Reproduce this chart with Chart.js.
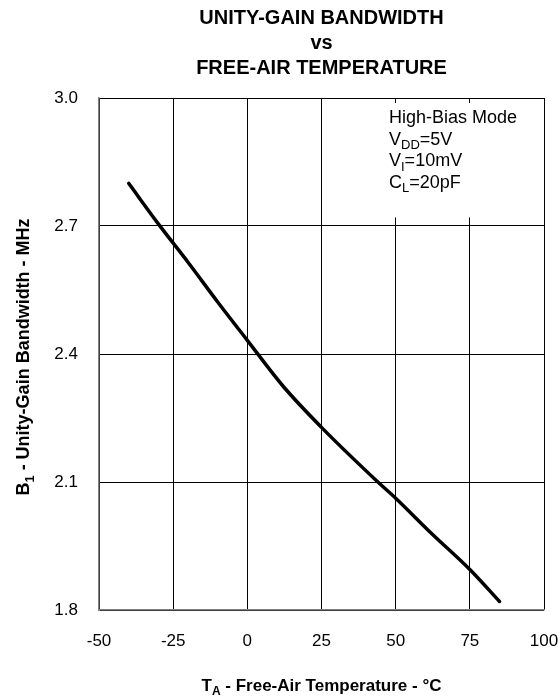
<!DOCTYPE html>
<html>
<head>
<meta charset="utf-8">
<script src="https://cdn.jsdelivr.net/npm/chart.js@4.4.1/dist/chart.umd.min.js"></script>
<style>
html,body{margin:0;padding:0;background:#fff}
#wrap{width:560px;height:698px}
</style>
</head>
<body>
<div id="wrap"><canvas id="bwChart"></canvas></div>
<script>
// temperature (degC) and unity-gain bandwidth (MHz)
const tempC=[-40,-30,-20,-10,0,12,25,44,50,62,75,85]
const bwMHz=[2.80,2.705,2.615,2.522,2.432,2.325,2.228,2.10,2.062,1.98,1.895,1.82]

const xTicks=[-50,-25,0,25,50,75,100]
const yTicks=[1.8,2.1,2.4,2.7,3.0]

const titleLines=["UNITY-GAIN BANDWIDTH","vs","FREE-AIR TEMPERATURE"]
// each note line: [main, subscript, rest]
const noteLines=[["High-Bias Mode","",""],["V","DD","=5V"],["V","I","=10mV"],["C","L","=20pF"]]

const FONT="'Liberation Sans', Arial, sans-serif"

// draws text pieces with subscripts, returns width
function subText(ctx,parts,x,y,size,weight,measureOnly){
ctx.font=weight+" "+size+"px "+FONT
let w0=ctx.measureText(parts[0]).width
ctx.font=weight+" "+Math.round(size*0.7)+"px "+FONT
let w1=ctx.measureText(parts[1]).width
ctx.font=weight+" "+size+"px "+FONT
let w2=ctx.measureText(parts[2]).width
if(measureOnly) return w0+w1+w2
ctx.textAlign="left"
ctx.textBaseline="alphabetic"
ctx.fillText(parts[0],x,y)
ctx.font=weight+" "+Math.round(size*0.7)+"px "+FONT
ctx.fillText(parts[1],x+w0,y+size*0.25)
ctx.font=weight+" "+size+"px "+FONT
ctx.fillText(parts[2],x+w0+w1,y)
return w0+w1+w2
}

const decor={
id:"decor",
beforeDatasetsDraw(chart){
const {ctx,chartArea,scales}=chart
ctx.save()
// white box behind the conditions note
const bx=scales.x.getPixelForValue(44)
const by=scales.y.getPixelForValue(2.72)
ctx.fillStyle="#fff"
ctx.fillRect(bx,chartArea.top+5,chartArea.right-bx-2,by-chartArea.top-5)
ctx.fillStyle="#000"
noteLines.forEach((p,i)=>{
subText(ctx,p,389,123+i*21.5,18,"normal")
})
ctx.restore()
},
afterDraw(chart){
const {ctx,chartArea}=chart
ctx.save()
ctx.fillStyle="#000"
ctx.textAlign="center"
ctx.textBaseline="middle"
ctx.font="bold 20px "+FONT
const cx=(chartArea.left+chartArea.right)/2
ctx.fillText(titleLines[0],cx,18)
ctx.fillText(titleLines[1],cx,43)
ctx.fillText(titleLines[2],cx,68)

// x axis title
const xt=["T","A"," - Free-Air Temperature - \u00B0C"]
let w=subText(ctx,xt,0,0,17,"bold",true)
subText(ctx,xt,cx-w/2,691,17,"bold")

// y axis title
const yt=["B","1"," - Unity-Gain Bandwidth - MHz"]
ctx.translate(29,357)
ctx.rotate(-Math.PI/2)
w=subText(ctx,yt,0,0,18,"bold",true)
subText(ctx,yt,-w/2,0,18,"bold")
ctx.restore()
}
}

const ctx=document.getElementById("bwChart").getContext("2d")

const chart=new Chart(ctx,{
type:"scatter",
data:{
datasets:[{
data:tempC.map((t,i)=>({x:t,y:bwMHz[i]})),
showLine:true,
borderColor:"#000",
borderWidth:3.5,
pointRadius:0,
cubicInterpolationMode:"monotone",
borderCapStyle:"round"
}]
},
options:{
responsive:true,
maintainAspectRatio:false,
animation:false,
layout:{padding:{left:0,right:16,top:98,bottom:0}},
plugins:{legend:{display:false},tooltip:{enabled:false}},
scales:{
x:{
type:"linear",
min:-50,max:100,
afterBuildTicks:s=>{s.ticks=xTicks.map(v=>({value:v}))},
afterFit:s=>{s.height=88;s.paddingLeft=0;s.paddingRight=0},
grid:{color:"#000",lineWidth:1,drawTicks:false},
border:{color:"#808080",width:1.5},
ticks:{padding:21,color:"#000",font:{family:FONT,size:17}}
},
y:{
min:1.8,max:3.0,
afterBuildTicks:s=>{s.ticks=yTicks.map(v=>({value:v}))},
afterFit:s=>{s.width=99;s.paddingTop=0;s.paddingBottom=0},
grid:{color:"#000",lineWidth:1,drawTicks:false},
border:{color:"#808080",width:1.5},
ticks:{padding:21,color:"#000",font:{family:FONT,size:17},callback:v=>v.toFixed(1)}
}
}
},
plugins:[decor]
})
</script>
</body>
</html>
